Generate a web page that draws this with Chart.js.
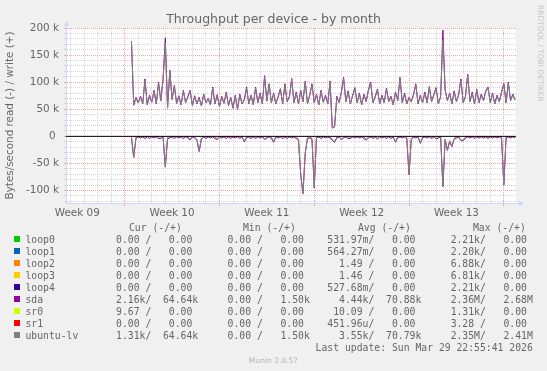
<!DOCTYPE html>
<html>
<head>
<meta charset="utf-8">
<script src="https://cdn.jsdelivr.net/npm/chart.js@4.4.0/dist/chart.umd.min.js"></script>
<style>
  html, body { margin: 0; padding: 0; }
  body {
    width: 547px; height: 371px; overflow: hidden; position: relative;
    background: #f0f0f0; color: #666; font-family: 'DejaVu Sans', sans-serif;
  }
  #chart { position: absolute; left: 0; top: 0; }
  .title { position: absolute; left: 0; top: 12.7px; width: 547px; text-align: center; font-size: 12.5px; line-height: 12.5px; }
  .mono { position: absolute; font-family: 'DejaVu Sans Mono', monospace; font-size: 9.75px; line-height: 12px; white-space: pre; }
  .box { position: absolute; left: 14px; width: 6px; height: 6px; }
  .stamp { position: absolute; font-size: 7.5px; line-height: 7.5px; color: #b4b4b4; }
  .side { position: absolute; left: 536px; top: 5px; font-size: 7.5px; line-height: 7.5px; color: #c6c6c6; writing-mode: vertical-rl; }
</style>
</head>
<body>
<canvas id="chart" width="547" height="371"></canvas>
<div class="title">Throughput per device - by month</div>
<div class="side">RRDTOOL / TOBI OETIKER</div>
<div id="legend"></div>
<div class="stamp" style="left:0;width:547px;text-align:center;top:357.4px">Munin 2.0.57</div>
<script>
// x axis is in days since Sun Feb 22 2026 00:00, samples every 4 hours
const weekLabels = ['Week 09', 'Week 10', 'Week 11', 'Week 12', 'Week 13']
const weekCenters = [3.5, 10.5, 17.5, 24.5, 31.5]
const firstSample = 7.5
const sampleStep = 1 / 6

// values in k bytes/second
const sdaWrite = [
  176, 58, 72, 62, 74, 61, 106, 58, 76, 63,
  85, 60, 100, 66, 106, 182, 53, 122, 68, 94,
  61, 75, 58, 85, 62, 74, 85, 57, 75, 60,
  72, 56, 78, 62, 70, 58, 91, 60, 77, 55,
  74, 61, 82, 57, 72, 52, 76, 50, 78, 60,
  68, 91, 60, 76, 58, 91, 62, 80, 60, 112,
  65, 97, 62, 80, 60, 74, 88, 60, 97, 64,
  74, 107, 62, 82, 60, 85, 64, 102, 60, 77,
  97, 62, 78, 58, 85, 63, 76, 60, 102, 16,
  18, 74, 62, 82, 109, 64, 84, 60, 76, 90,
  62, 80, 58, 78, 64, 86, 100, 62, 74, 87,
  60, 76, 62, 89, 64, 74, 58, 82, 66, 109,
  62, 80, 60, 72, 64, 78, 97, 60, 76, 62,
  82, 62, 92, 64, 78, 90, 60, 74, 196, 86,
  66, 80, 60, 84, 64, 78, 106, 62, 74, 115,
  64, 82, 60, 87, 62, 78, 66, 84, 91, 62,
  80, 60, 76, 64, 82, 98, 62, 100, 66, 78, 67
]
const sdaRead = [
  3, 39, 4, 1, 3, 1, 4, 1, 4, 1,
  3, 1, 4, 4, 1, 57, 5, 3, 1, 4,
  1, 3, 1, 4, 1, 3, 7, 1, 3, 7,
  28, 5, 1, 4, 1, 3, 1, 4, 6, 1,
  3, 1, 4, 1, 4, 1, 3, 1, 4, 1,
  10, 3, 1, 4, 1, 4, 1, 3, 1, 6,
  3, 1, 4, 11, 1, 3, 1, 4, 1, 4,
  1, 3, 1, 4, 6, 71, 106, 31, 4, 3,
  6, 95, 3, 1, 4, 1, 3, 1, 3, 7,
  11, 3, 1, 6, 3, 1, 4, 4, 1, 3,
  1, 3, 1, 4, 7, 3, 1, 4, 1, 5,
  1, 3, 1, 4, 1, 4, 1, 11, 3, 1,
  3, 1, 4, 71, 6, 1, 3, 1, 13, 3,
  1, 3, 1, 4, 1, 5, 3, 1, 93, 6,
  26, 9, 19, 5, 3, 1, 8, 8, 3, 1,
  3, 1, 4, 1, 3, 1, 3, 1, 4, 1,
  3, 1, 3, 1, 4, 90, 3, 1, 3, 1, 3
]
const ubuntuWrite = [
  176, 57, 70, 62, 72, 60, 104, 58, 74, 63,
  83, 60, 98, 65, 104, 172, 52, 120, 68, 92,
  60, 74, 58, 83, 62, 72, 83, 57, 73, 60,
  70, 56, 76, 62, 68, 58, 89, 60, 75, 55,
  72, 61, 80, 57, 70, 52, 74, 50, 76, 60,
  66, 89, 60, 74, 58, 89, 62, 78, 60, 110,
  65, 95, 62, 78, 60, 72, 86, 60, 95, 64,
  72, 105, 62, 80, 60, 83, 64, 100, 60, 75,
  95, 62, 76, 58, 83, 63, 74, 60, 100, 15,
  17, 72, 62, 80, 107, 64, 82, 60, 74, 88,
  62, 78, 58, 76, 64, 84, 98, 62, 72, 85,
  60, 74, 62, 87, 64, 72, 58, 80, 66, 107,
  62, 78, 60, 70, 64, 76, 95, 60, 74, 62,
  80, 62, 90, 64, 76, 88, 60, 72, 178, 84,
  66, 78, 60, 82, 64, 76, 104, 62, 72, 113,
  64, 80, 60, 85, 62, 76, 66, 82, 89, 62,
  78, 60, 74, 64, 80, 96, 62, 98, 66, 76, 67
]
const ubuntuRead = [
  1, 38, 1, 0.5, 1, 0.5, 1, 0.5, 1, 0.5,
  1, 0.5, 1, 1, 0.5, 56, 2, 1, 0.5, 1,
  0.5, 1, 0.5, 1, 0.5, 1, 6, 0.5, 1, 6,
  27, 3, 0.5, 1, 0.5, 1, 0.5, 1, 4, 0.5,
  1, 0.5, 1, 0.5, 1, 0.5, 1, 0.5, 1, 0.5,
  9, 1, 0.5, 1, 0.5, 1, 0.5, 1, 0.5, 5,
  1, 0.5, 1, 10, 0.5, 1, 0.5, 1, 0.5, 1,
  0.5, 1, 0.5, 1, 5, 70, 105, 30, 2, 1,
  4, 93, 1, 0.5, 1, 0.5, 1, 0.5, 1, 6,
  10, 1, 0.5, 5, 1, 0.5, 1, 2, 0.5, 1,
  0.5, 1, 0.5, 1, 6, 1, 0.5, 1, 0.5, 4,
  0.5, 1, 0.5, 1, 0.5, 1, 0.5, 10, 1, 0.5,
  1, 0.5, 2, 70, 4, 0.5, 1, 0.5, 12, 1,
  0.5, 1, 0.5, 2, 0.5, 4, 1, 0.5, 92, 5,
  25, 8, 18, 4, 1, 0.5, 7, 7, 1, 0.5,
  1, 0.5, 1, 0.5, 1, 0.5, 1, 0.5, 1, 0.5,
  1, 0.5, 1, 0.5, 1, 89, 1, 0.5, 1, 0.5, 1
]

// legend table
const devices = ['loop0', 'loop1', 'loop2', 'loop3', 'loop4', 'sda', 'sr0', 'sr1', 'ubuntu-lv']
const deviceColors = ['#00CC00', '#0066B3', '#FF8000', '#FFCC00', '#330099', '#990099', '#CCFF00', '#FF0000', '#808080']
const curRead = ['0.00', '0.00', '0.00', '0.00', '0.00', '2.16k', '9.67', '0.00', '1.31k']
const curWrite = ['0.00', '0.00', '0.00', '0.00', '0.00', '64.64k', '0.00', '0.00', '64.64k']
const minRead = ['0.00', '0.00', '0.00', '0.00', '0.00', '0.00', '0.00', '0.00', '0.00']
const minWrite = ['0.00', '0.00', '0.00', '0.00', '0.00', '1.50k', '0.00', '0.00', '1.50k']
const avgRead = ['531.97m', '564.27m', '1.49', '1.46', '527.68m', '4.44k', '10.09', '451.96u', '3.55k']
const avgWrite = ['0.00', '0.00', '0.00', '0.00', '0.00', '70.88k', '0.00', '0.00', '70.79k']
const maxRead = ['2.21k', '2.20k', '6.88k', '6.81k', '2.21k', '2.36M', '1.31k', '3.28', '2.35M']
const maxWrite = ['0.00', '0.00', '0.00', '0.00', '0.00', '2.68M', '0.00', '0.00', '2.41M']
const lastUpdate = 'Last update: Sun Mar 29 22:55:41 2026'

const xMin = 2.665
const xMax = 35.9

const fmt = (s, slash) => {
    const m = s.match(/^([\d.]+)([a-zA-Z]?)$/)
    return m[1].padStart(6) + (m[2] || ' ') + (slash ? '/' : '')
}

const legend = document.querySelector('#legend')
const addText = (cls, text, left, top) => {
    const el = document.createElement('div')
    el.className = cls
    el.textContent = text
    el.style.left = left + 'px'
    el.style.top = top + 'px'
    legend.appendChild(el)
    return el
}
addText('mono', 'Cur (-/+)', 129, 221.5)
addText('mono', 'Min (-/+)', 243, 221.5)
addText('mono', 'Avg (-/+)', 358, 221.5)
addText('mono', 'Max (-/+)', 473, 221.5)
devices.forEach((name, i) => {
    const top = 233.5 + i * 12
    const box = document.createElement('div')
    box.className = 'box'
    box.style.top = (top + 2.8) + 'px'
    box.style.background = deviceColors[i]
    legend.appendChild(box)
    addText('mono', name, 25.5, top)
    const row = [
        fmt(curRead[i], true) + ' ' + fmt(curWrite[i]),
        fmt(minRead[i], true) + ' ' + fmt(minWrite[i]),
        fmt(avgRead[i], true) + ' ' + fmt(avgWrite[i]),
        fmt(maxRead[i], true) + ' ' + fmt(maxWrite[i])
    ].join('   ')
    addText('mono', row, 104.3, top)
})
const upd = addText('mono', lastUpdate, 0, 233.5 + 9 * 12)
upd.style.left = ''
upd.style.right = (547 - 532.8) + 'px'

const toPoints = (vals, sign) => vals.map((v, i) => ({ x: firstSample + i * sampleStep, y: sign * v * 1000 }))

const line = (label, data, color, order) => ({
    label, data, order,
    borderColor: color,
    borderWidth: 1,
    pointRadius: 0,
    tension: 0,
    fill: false
})

const plotBackground = {
    id: 'plotBackground',
    beforeDraw(chart) {
        const { ctx, chartArea: a } = chart
        ctx.save()
        ctx.fillStyle = '#ffffff'
        ctx.fillRect(a.left, a.top, a.right - a.left, a.bottom - a.top)
        ctx.restore()
    }
}

const axisArrows = {
    id: 'axisArrows',
    afterDraw(chart) {
        const { ctx, chartArea: a } = chart
        const ax = a.left + 0.5
        const ay = a.bottom + 0.5
        ctx.save()
        ctx.strokeStyle = '#CFD6F8'
        ctx.fillStyle = '#CFD6F8'
        ctx.lineWidth = 1
        ctx.beginPath()
        ctx.moveTo(ax, a.top)
        ctx.lineTo(ax, a.top - 3)
        ctx.moveTo(a.right, ay)
        ctx.lineTo(a.right + 4, ay)
        ctx.stroke()
        ctx.beginPath()
        ctx.moveTo(ax - 3, a.top - 2)
        ctx.lineTo(ax + 3, a.top - 2)
        ctx.lineTo(ax, a.top - 7)
        ctx.closePath()
        ctx.moveTo(a.right + 3, ay - 3)
        ctx.lineTo(a.right + 3, ay + 3)
        ctx.lineTo(a.right + 8, ay)
        ctx.closePath()
        ctx.fill()
        ctx.restore()
    }
}

const minorGrid = '#d6d6d6'
const majorGrid = '#f3a0a0'

Chart.defaults.font.family = "'DejaVu Sans', sans-serif"
Chart.defaults.font.size = 10.4
Chart.defaults.color = '#666'

const ctx = document.querySelector('#chart').getContext('2d')
new Chart(ctx, {
    type: 'line',
    data: {
        datasets: [
            line('zero', [{ x: xMin, y: 0 }, { x: xMax, y: 0 }], '#000000', 0),
            line('ubuntu-lv write', toPoints(ubuntuWrite, 1), '#808080', 1),
            line('ubuntu-lv read', toPoints(ubuntuRead, -1), '#808080', 1),
            line('sda write', toPoints(sdaWrite, 1), '#990099', 2),
            line('sda read', toPoints(sdaRead, -1), '#990099', 2)
        ]
    },
    options: {
        responsive: false,
        animation: false,
        devicePixelRatio: 1,
        layout: { padding: { left: 0, top: 28, right: 31, bottom: 144 } },
        plugins: {
            legend: { display: false },
            tooltip: { enabled: false }
        },
        scales: {
            x: {
                type: 'linear',
                min: xMin,
                max: xMax,
                afterFit: (scale) => { scale.height = 24 },
                afterBuildTicks: (scale) => {
                    const ticks = []
                    for (let d = 3; d <= 35; d++) ticks.push({ value: d })
                    weekCenters.forEach(c => ticks.push({ value: c }))
                    ticks.sort((a, b) => a.value - b.value)
                    scale.ticks = ticks
                },
                ticks: {
                    autoSkip: false,
                    maxRotation: 0,
                    minRotation: 0,
                    padding: 1,
                    color: '#666',
                    callback: (value) => {
                        const idx = weekCenters.indexOf(value)
                        return idx >= 0 ? weekLabels[idx] : ''
                    }
                },
                grid: {
                    lineWidth: 1,
                    tickLength: 3,
                    color: (c) => {
                        const v = c.tick ? c.tick.value : 0
                        if (!Number.isInteger(v)) return 'rgba(0,0,0,0)'
                        return v % 7 === 0 ? majorGrid : minorGrid
                    },
                    tickColor: (c) => {
                        const v = c.tick ? c.tick.value : 0
                        return Number.isInteger(v) && v % 7 === 0 ? majorGrid : 'rgba(0,0,0,0)'
                    }
                },
                border: { display: true, color: '#CFD6F8', width: 1, dash: [1, 1] }
            },
            y: {
                type: 'linear',
                min: -123000,
                max: 200000,
                afterFit: (scale) => { scale.width = 66 },
                afterBuildTicks: (scale) => {
                    const ticks = []
                    for (let v = -120000; v <= 200000; v += 10000) ticks.push({ value: v })
                    scale.ticks = ticks
                },
                ticks: {
                    autoSkip: false,
                    padding: 5,
                    color: '#666',
                    callback: (value) => {
                        if (value % 50000 !== 0) return ''
                        return value === 0 ? '0 ' : (value / 1000) + ' k'
                    }
                },
                grid: {
                    lineWidth: 1,
                    tickLength: 2,
                    color: (c) => (c.tick && c.tick.value % 50000 === 0) ? majorGrid : minorGrid,
                    tickColor: (c) => (c.tick && c.tick.value % 50000 === 0) ? majorGrid : minorGrid
                },
                border: { display: true, color: '#CFD6F8', width: 1, dash: [1, 1] },
                title: {
                    display: true,
                    text: 'Bytes/second read (-) / write (+)',
                    color: '#666',
                    font: { size: 10.4 },
                    padding: { top: 4, bottom: 0 }
                }
            }
        }
    },
    plugins: [plotBackground, axisArrows]
})
</script>
</body>
</html>
